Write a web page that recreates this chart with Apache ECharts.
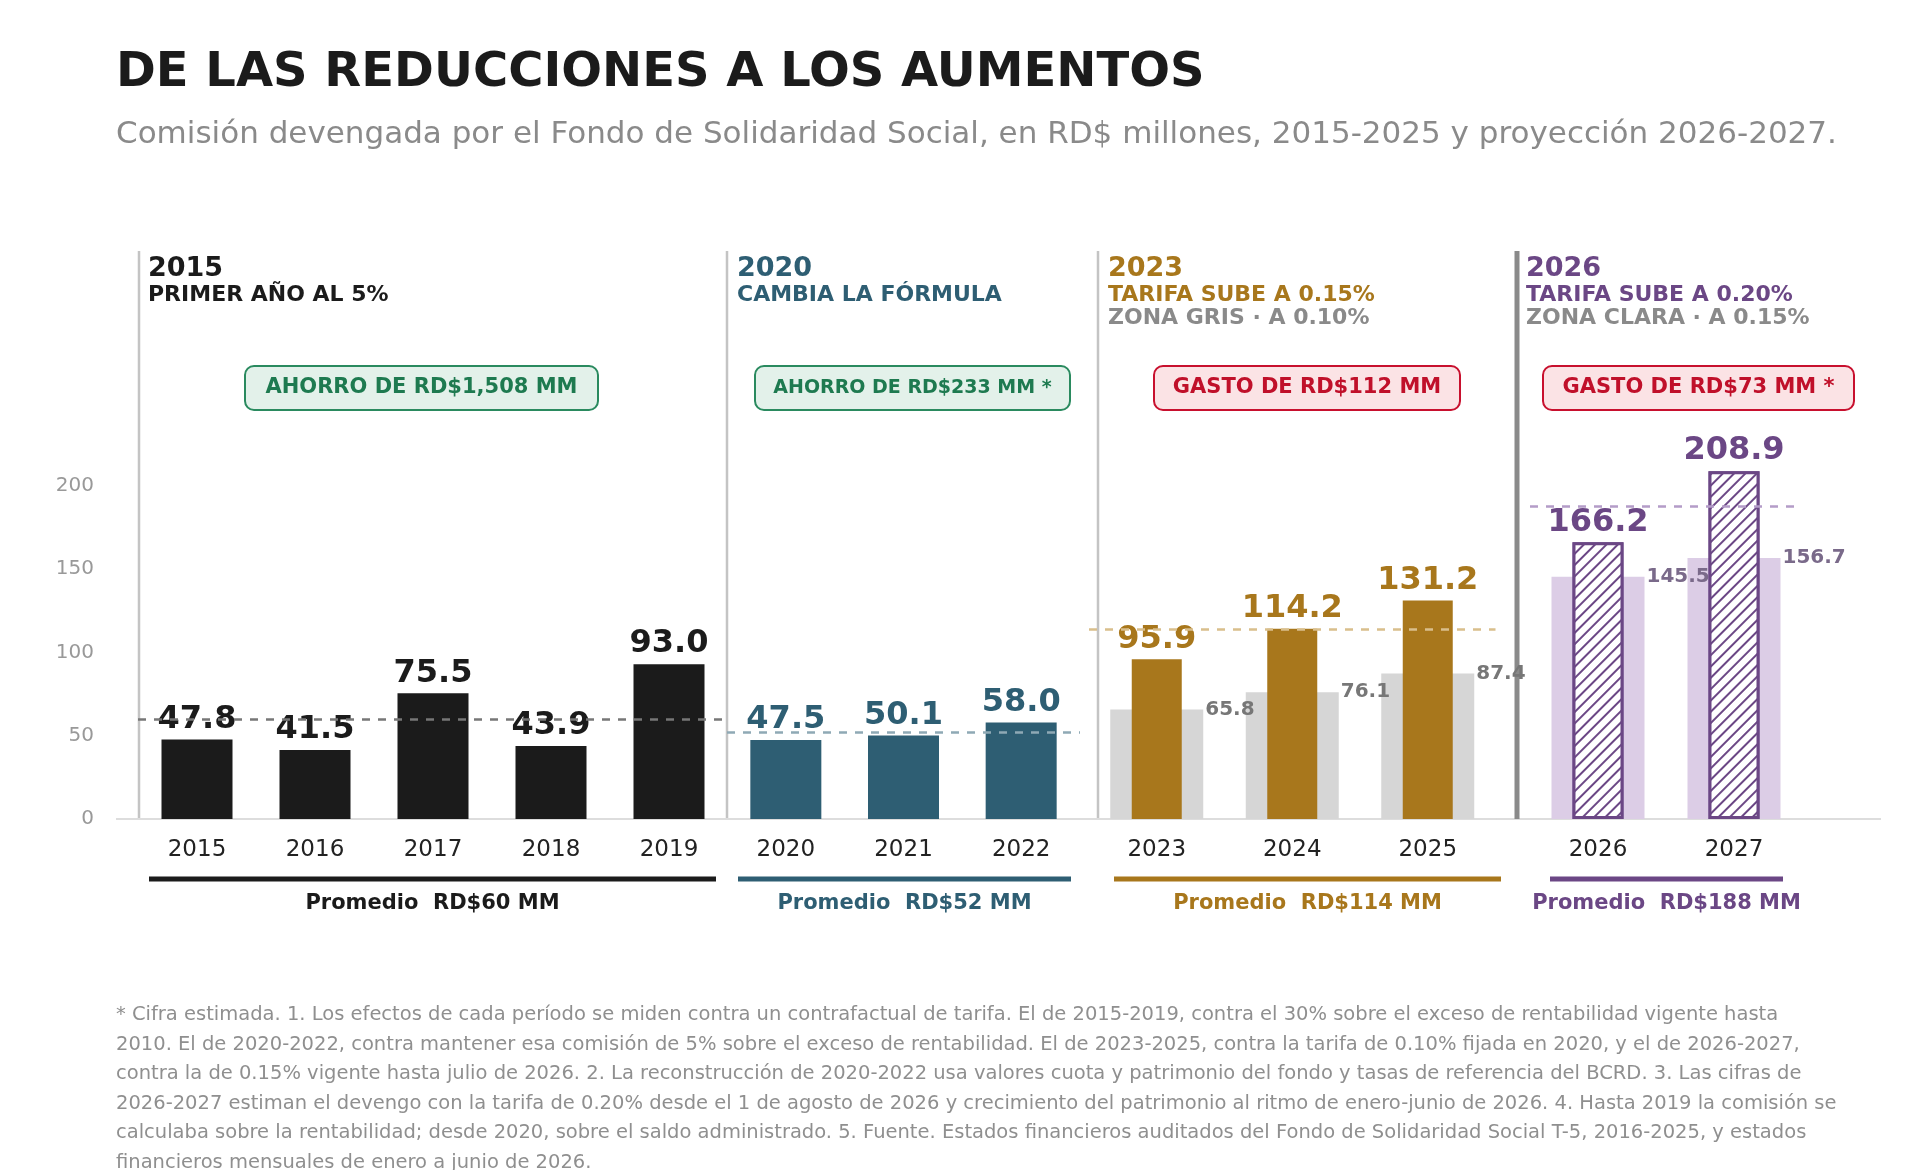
<!DOCTYPE html>
<html><head><meta charset="utf-8">
<script src="https://cdn.jsdelivr.net/npm/echarts@6/dist/echarts.min.js"></script>
<style>html,body{margin:0;padding:0;background:#fff}#c{width:1920px;height:1170px}</style>
</head><body><div id="c"></div>
<script>
const cats1 = ['2015','2016','2017','2018','2019'];
const vals1 = [47.8, 41.5, 75.5, 43.9, 93.0];
const cats2 = ['2020','2021','2022'];
const vals2 = [47.5, 50.1, 58.0];
const cats3 = ['2023','2024','2025'];
const vals3 = [95.9, 114.2, 131.2];
const base3 = [65.8, 76.1, 87.4];
const cats4 = ['2026','2027'];
const vals4 = [166.2, 208.9];
const base4 = [145.5, 156.7];
const avgs = [60, 52, 114, 188];
const yTicks = [0, 50, 100, 150, 200];

const F = '"DejaVu Sans", sans-serif';
const BASE = 819, GB = 1170 - BASE, GT = BASE - 250 * 1.665;
const grids = [
  {left:138, width:590}, {left:727, width:353}, {left:1089, width:406.5}, {left:1530, width:272}
].map(g => ({left:g.left, width:g.width, top:GT, bottom:GB}));
const catSets = [cats1, cats2, cats3, cats4];
const xAxes = catSets.map((c, i) => ({
  type:'category', gridIndex:i, data:c,
  axisLine:{show:true, lineStyle:{color:'#dddddd', width:2}}, axisTick:{show:false},
  axisLabel:{color:'#222', fontFamily:F, fontSize:23, margin:20}
}));
// hidden twin axes for the background (counterfactual) bars
xAxes.push({type:'category', gridIndex:2, data:cats3, show:false});
xAxes.push({type:'category', gridIndex:3, data:cats4, show:false});
const yAxes = catSets.map((c, i) => ({
  type:'value', gridIndex:i, min:0, max:250, interval:50,
  splitLine:{show:false}, axisLine:{show:false}, axisTick:{show:false},
  axisLabel:{show:i===0, margin:44, color:'#999', fontFamily:F, fontSize:20,
    formatter: v => yTicks.includes(v) ? String(v) : ''}
}));
const avgColors = ['#777777', '#8fa9b5', '#d9bf8c', '#b49cc8'];
function ml(i){
  return {silent:true, symbol:'none', label:{show:false},
    lineStyle:{type:[8,8], color:avgColors[i], width:2.5}, data:[{yAxis:avgs[i]}]};
}
function mainLabel(color){
  return {show:true, position:'top', distance:4, color:color, fontFamily:F, fontWeight:'bold', fontSize:32,
    formatter: p => p.value.toFixed(1)};
}
function sideLabel(color){
  return {show:true, position:['100%', 0], align:'left', verticalAlign:'middle', offset:[2,0],
    color:color, fontFamily:F, fontWeight:'bold', fontSize:20, formatter: p => p.value.toFixed(1)};
}
const series = [
  {type:'bar', xAxisIndex:0, yAxisIndex:0, data:vals1, barWidth:71, itemStyle:{color:'#1b1b1b'},
    label:mainLabel('#1b1b1b'), markLine:ml(0)},
  {type:'bar', xAxisIndex:1, yAxisIndex:1, data:vals2, barWidth:71, itemStyle:{color:'#2e5e73'},
    label:mainLabel('#2e5e73'), markLine:ml(1)},
  {type:'bar', xAxisIndex:4, yAxisIndex:2, data:base3, barWidth:93, z:1,
    itemStyle:{color:'#d6d6d6'}, label:sideLabel('#777777')},
  {type:'bar', xAxisIndex:2, yAxisIndex:2, data:vals3, barWidth:50, z:3, itemStyle:{color:'#a8771c'},
    label:mainLabel('#a8771c'), markLine:ml(2)},
  {type:'bar', xAxisIndex:5, yAxisIndex:3, data:base4, barWidth:93, z:1,
    itemStyle:{color:'#dccde6'}, label:sideLabel('#7a6a8a')},
  {type:'bar', xAxisIndex:3, yAxisIndex:3, data:vals4, barWidth:51, z:3,
    itemStyle:{color:'#ffffff', borderColor:'#6b4785', borderWidth:3,
      decal:{symbol:'rect', symbolSize:1, dashArrayX:[1,0], dashArrayY:[2,6], rotation:-Math.PI/4, color:'#6b4785', backgroundColor:'#ffffff'}},
    label:mainLabel('#6b4785'), markLine:ml(3)}
];
const G = [];
function txt(x, y, s, size, color, weight, align){
  G.push({type:'text', z:10, style:{x:x, y:y, text:s, fontFamily:F, fontSize:size, fill:color,
    fontWeight:weight||'normal', textAlign:align||'left', textVerticalAlign:'middle'}});
}
function line(x1, y1, x2, y2, color, w){
  G.push({type:'line', shape:{x1, y1, x2, y2}, style:{stroke:color, lineWidth:w}, z:0});
}
txt(116, 74, 'DE LAS REDUCCIONES A LOS AUMENTOS', 48, '#1b1b1b', 'bold');
txt(116, 135, 'Comisión devengada por el Fondo de Solidaridad Social, en RD$ millones, 2015-2025 y proyección 2026-2027.', 31, '#8a8a8a');
line(116, BASE, 1881, BASE, '#dddddd', 2);
line(139, 251, 139, BASE, '#c4c4c4', 2.5);
line(727, 251, 727, BASE, '#c4c4c4', 2.5);
line(1098, 251, 1098, BASE, '#c4c4c4', 2.5);
line(1517, 251, 1517, BASE, '#8a8a8a', 5);
const heads = [
  {x:148, c:'#1b1b1b', y:'2015', s:'PRIMER AÑO AL 5%'},
  {x:737, c:'#2e5e73', y:'2020', s:'CAMBIA LA FÓRMULA'},
  {x:1108, c:'#a8771c', y:'2023', s:'TARIFA SUBE A 0.15%', t:'ZONA GRIS · A 0.10%'},
  {x:1526, c:'#6b4785', y:'2026', s:'TARIFA SUBE A 0.20%', t:'ZONA CLARA · A 0.15%'}
];
heads.forEach(h => {
  txt(h.x, 269, h.y, 27, h.c, 'bold');
  txt(h.x, 295, h.s, 22, h.c, 'bold');
  if (h.t) txt(h.x, 318, h.t, 22, '#8a8a8a', 'bold');
});
const badges = [
  {x1:245, x2:598, s:'AHORRO DE RD$1,508 MM', g:true, f:21},
  {x1:755, x2:1070, s:'AHORRO DE RD$233 MM *', g:true, f:19},
  {x1:1154, x2:1460, s:'GASTO DE RD$112 MM', g:false, f:21},
  {x1:1543, x2:1854, s:'GASTO DE RD$73 MM *', g:false, f:21}
];
badges.forEach(b => {
  G.push({type:'rect', z:5, shape:{x:b.x1, y:366, width:b.x2-b.x1, height:44, r:9},
    style:{fill:b.g?'#e3f1ea':'#fbe3e5', stroke:b.g?'#2a8a5f':'#c8102e', lineWidth:2}});
  txt((b.x1+b.x2)/2, 388, b.s, b.f, b.g?'#1e7a50':'#c0102a', 'bold', 'center');
});
const proms = [
  {x1:149, x2:716, c:'#1b1b1b'}, {x1:738, x2:1071, c:'#2e5e73'},
  {x1:1114, x2:1501, c:'#a8771c'}, {x1:1550, x2:1783, c:'#6b4785'}
];
proms.forEach((p, i) => {
  line(p.x1, 879, p.x2, 879, p.c, 5);
  txt((p.x1+p.x2)/2, 904, 'Promedio  RD$' + avgs[i] + ' MM', 21, p.c, 'bold', 'center');
});
const foot = [
  '* Cifra estimada. 1. Los efectos de cada período se miden contra un contrafactual de tarifa. El de 2015-2019, contra el 30% sobre el exceso de rentabilidad vigente hasta',
  '2010. El de 2020-2022, contra mantener esa comisión de 5% sobre el exceso de rentabilidad. El de 2023-2025, contra la tarifa de 0.10% fijada en 2020, y el de 2026-2027,',
  'contra la de 0.15% vigente hasta julio de 2026. 2. La reconstrucción de 2020-2022 usa valores cuota y patrimonio del fondo y tasas de referencia del BCRD. 3. Las cifras de',
  '2026-2027 estiman el devengo con la tarifa de 0.20% desde el 1 de agosto de 2026 y crecimiento del patrimonio al ritmo de enero-junio de 2026. 4. Hasta 2019 la comisión se',
  'calculaba sobre la rentabilidad; desde 2020, sobre el saldo administrado. 5. Fuente. Estados financieros auditados del Fondo de Solidaridad Social T-5, 2016-2025, y estados',
  'financieros mensuales de enero a junio de 2026.'
];
foot.forEach((s, i) => txt(116, 1015 + i*29.5, s, 19.5, '#8f8f8f'));

const chart = echarts.init(document.getElementById('c'));
chart.setOption({
  backgroundColor:'#ffffff', animation:false,
  grid:grids, xAxis:xAxes, yAxis:yAxes, series:series, graphic:G
});
</script></body></html>
